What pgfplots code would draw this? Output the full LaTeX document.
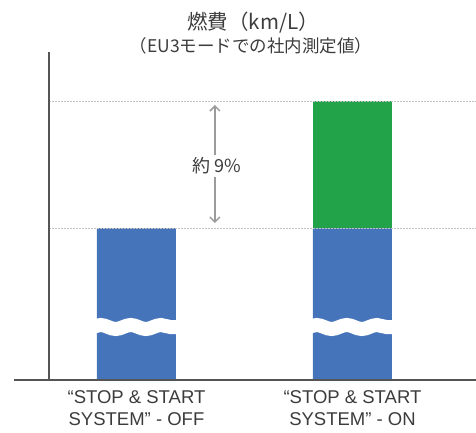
\documentclass[border=0pt]{standalone}
\usepackage{fontspec}
\setmainfont{Liberation Sans}
\newfontfamily\cjk{Noto Sans CJK JP}
\usepackage{pgfplots}
\usepackage{pgfplotstable}
\pgfplotsset{compat=1.18}
\usetikzlibrary{decorations.pathmorphing,arrows.meta}
\definecolor{barblue}{RGB}{70,116,186}
\definecolor{bargreen}{RGB}{34,163,74}
\definecolor{axiscol}{RGB}{85,85,85}
\definecolor{textcol}{RGB}{60,60,60}
\definecolor{arrowcol}{RGB}{155,155,155}
\definecolor{dotcol}{RGB}{195,195,195}
\pgfplotstableread{
x base gain
0 152 0
1 152 127
}\datatable
\begin{document}
\begin{tikzpicture}
\useasboundingbox (0pt,0pt) rectangle (476pt,432pt);
\begin{axis}[
  at={(49pt,52pt)}, anchor=south west,
  scale only axis, width=427pt, height=328pt,
  xmin=-0.405, xmax=1.572, ymin=0, ymax=328,
  axis line style={draw=none},
  xtick={0,1},
  xticklabels={{“STOP \& START\\SYSTEM” - OFF},{“STOP \& START\\SYSTEM” - ON}},
  xticklabel style={align=center, font=\fontsize{18.5}{22}\selectfont, text=textcol, yshift=-7pt},
  ytick=\empty,
  major tick length=0pt,
  clip=false,
  ybar stacked, bar width=79pt,
]
\draw[dotcol, line width=0.9pt, dash pattern=on 1.5pt off 1.5pt] (axis cs:-0.405,279) -- (axis cs:1.572,279);
\draw[dotcol, line width=0.9pt, dash pattern=on 1.5pt off 1.5pt] (axis cs:-0.405,152) -- (axis cs:1.572,152);
\addplot[fill=barblue, draw=none] table[x=x,y=base]{\datatable};
\addplot[fill=bargreen, draw=none] table[x=x,y=gain]{\datatable};
\coordinate (b0l) at (axis cs:-0.21,53);
\coordinate (b0r) at (axis cs:0.21,53);
\coordinate (b1l) at (axis cs:0.79,53);
\coordinate (b1r) at (axis cs:1.21,53);
\coordinate (y0) at (rel axis cs:0,0);
\coordinate (y1) at (rel axis cs:0,1);
\coordinate (x0) at (rel axis cs:-0.082,0);
\coordinate (x1) at (rel axis cs:1,0);
\coordinate (a0) at (axis cs:0.363,157);
\coordinate (a1) at (axis cs:0.363,275);
\coordinate (lbl) at (axis cs:0.372,214);
\end{axis}
\draw[white, line width=14pt, decorate, decoration={snake, amplitude=2pt, segment length=30.2pt}] (b0l) -- (b0r);
\draw[white, line width=14pt, decorate, decoration={snake, amplitude=2pt, segment length=30.2pt}] (b1l) -- (b1r);
\draw[axiscol, line width=1.3pt] (y0) -- (y1);
\draw[axiscol, line width=1.3pt] (x0) -- (x1);
\draw[arrowcol, line width=1.5pt, {Straight Barb[length=5pt,width=10pt]}-{Straight Barb[length=5pt,width=10pt]}] (a0) -- (a1);
\node[fill=white, inner sep=3pt, text=textcol, font=\cjk\fontsize{18}{21}\selectfont] at (lbl) {約 9\%};
\node[font=\cjk\fontsize{20.5}{24}\selectfont, text=textcol] at (253pt,409pt) {燃費（km/L）};
\node[font=\cjk\fontsize{17.5}{20}\selectfont, text=textcol] at (251pt,386pt) {（EU3モードでの社内測定値）};
\end{tikzpicture}
\end{document}
